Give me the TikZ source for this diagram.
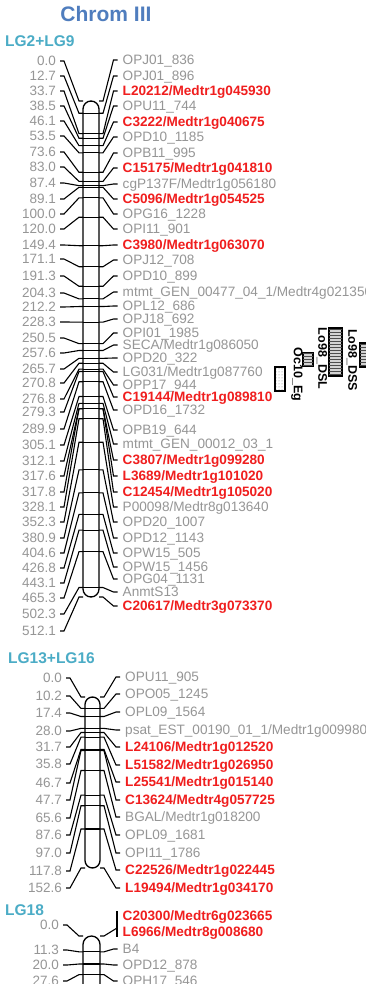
\documentclass[tikz,border=0pt]{standalone}
\usepackage{fontspec}
\setmainfont{Liberation Sans}
\usetikzlibrary{patterns,calc}
\definecolor{gry}{RGB}{150,150,150}
\definecolor{rd}{RGB}{240,30,30}
\definecolor{lgc}{RGB}{75,172,198}
\definecolor{ttl}{RGB}{79,125,190}
\newcounter{mk}
\newcommand\setchrom[8]{\def\numx{#1}\def\barL{#2}\def\barR{#3}\def\labx{#4}\def\btop{#5}\def\bk{#6}\def\bbot{#7}\def\brad{#8}}
\newcommand\mk[6]{%
 \stepcounter{mk}%
 \pgfmathsetmacro\yb{\btop+#1*\bk}%
 \node[numsty,anchor=base east] (num\themk) at (\numx,#2+4.9) {#4};%
 \node[#6,anchor=base west] (lab\themk) at (\labx,#3+4.9) {#5};%
 \coordinate (bl\themk) at (\barL,\yb);%
 \coordinate (br\themk) at (\barR,\yb);%
 \coordinate (tl\themk) at (\numx+4,#2);%
 \coordinate (tr\themk) at (\labx-5,#3);%
 \draw[conn] (tl\themk) -- ([xshift=4pt]tl\themk) -- ([xshift=-4pt]bl\themk) -- (bl\themk);%
 \draw[conn] (br\themk) -- ([xshift=4pt]br\themk) -- ([xshift=-4pt]tr\themk) -- (tr\themk);%
 \begin{scope}\clip[rounded corners=\brad pt] (\barL,\btop) rectangle (\barR,\bbot);
 \draw[conn] (bl\themk) -- (br\themk);\end{scope}%
}
\tikzset{
 numsty/.style={inner sep=0pt,text=gry,font=\fontsize{13.5}{14}\selectfont},
 gl/.style={inner sep=0pt,text=gry,font=\fontsize{13.6}{14}\selectfont},
 rl/.style={inner sep=0pt,text=rd,font=\bfseries\fontsize{13.6}{14}\selectfont},
 conn/.style={line width=1.1pt,black},
 barsty/.style={line width=1.3pt,black},
 lgt/.style={inner sep=0pt,text=lgc,font=\bfseries\fontsize{15.5}{17}\selectfont,anchor=base west},
 qbox/.style={line width=1.4pt,black},
 qlab/.style={inner sep=0pt,font=\bfseries\fontsize{12.5}{13}\selectfont,rotate=-90}
}
\begin{document}
\begin{tikzpicture}[x=1pt,y=-1pt]
\useasboundingbox (0,0) rectangle (366,984);
\fill[white] (0,0) rectangle (366,984);
% title
\node[inner sep=0pt,anchor=base,text=ttl,font=\bfseries\fontsize{21}{24}\selectfont] (title) at (106,22) {Chrom III};
% ---------- LG2+LG9
\node[lgt] (lg1) at (5,47) {LG2+LG9};
\setchrom{56}{83}{99}{122.5}{101}{0.9686}{597}{8}
\mk{0.0}{61}{60}{0.0}{OPJ01\_836}{gl}
\mk{12.7}{76}{76}{12.7}{OPJ01\_896}{gl}
\mk{33.7}{91}{91}{33.7}{L20212/Medtr1g045930}{rl}
\mk{38.5}{106}{106}{38.5}{OPU11\_744}{gl}
\mk{46.1}{121}{122}{46.1}{C3222/Medtr1g040675}{rl}
\mk{53.5}{136}{137}{53.5}{OPD10\_1185}{gl}
\mk{73.6}{152}{153}{73.6}{OPB11\_995}{gl}
\mk{83.0}{167}{168}{83.0}{C15175/Medtr1g041810}{rl}
\mk{87.4}{183}{184}{87.4}{cgP137F/Medtr1g056180}{gl}
\mk{89.1}{199}{199}{89.1}{C5096/Medtr1g054525}{rl}
\mk{100.0}{214}{214}{100.0}{OPG16\_1228}{gl}
\mk{120.0}{229}{229}{120.0}{OPI11\_901}{gl}
\mk{149.4}{245}{245}{149.4}{C3980/Medtr1g063070}{rl}
\mk{171.1}{259}{260}{171.1}{OPJ12\_708}{gl}
\mk{191.3}{276}{276}{191.3}{OPD10\_899}{gl}
\mk{204.3}{293}{292}{204.3}{mtmt\_GEN\_00477\_04\_1/Medtr4g021350}{gl}
\mk{212.2}{307}{306}{212.2}{OPL12\_686}{gl}
\mk{228.3}{322}{319}{228.3}{OPJ18\_692}{gl}
\mk{250.5}{338}{333}{250.5}{OPI01\_1985}{gl}
\mk{257.6}{353}{345}{257.6}{SECA/Medtr1g086050}{gl}
\mk{265.7}{369}{358}{265.7}{OPD20\_322}{gl}
\mk{270.8}{383}{372}{270.8}{LG031/Medtr1g087760}{gl}
\mk{276.8}{399}{385}{276.8}{OPP17\_944}{gl}
\mk{279.3}{412}{397}{279.3}{C19144/Medtr1g089810}{rl}
\mk{289.9}{429}{410}{289.9}{OPD16\_1732}{gl}
\mk{305.1}{445}{430}{305.1}{OPB19\_644}{gl}
\mk{312.1}{461}{444}{312.1}{mtmt\_GEN\_00012\_03\_1}{gl}
\mk{317.6}{476}{460}{317.6}{C3807/Medtr1g099280}{rl}
\mk{317.8}{492}{476}{317.8}{L3689/Medtr1g101020}{rl}
\mk{328.1}{507}{492}{328.1}{C12454/Medtr1g105020}{rl}
\mk{352.3}{522}{507}{352.3}{P00098/Medtr8g013640}{gl}
\mk{380.9}{538}{522}{380.9}{OPD20\_1007}{gl}
\mk{404.6}{553}{538}{404.6}{OPD12\_1143}{gl}
\mk{426.8}{568}{553}{426.8}{OPW15\_505}{gl}
\mk{443.1}{583}{567}{443.1}{OPW15\_1456}{gl}
\mk{465.3}{598}{579}{465.3}{OPG04\_1131}{gl}
\mk{502.3}{614}{592}{502.3}{AnmtS13}{gl}
\mk{512.1}{631}{606}{512.1}{C20617/Medtr3g073370}{rl}
\draw[barsty,rounded corners=8pt] (83,101) rectangle (99,597);
% ---------- QTL boxes
\draw[qbox,fill=gray!12,pattern=dots,pattern color=gray] (275,367) rectangle (285,391);
\node[qlab] (q1) at (297,374.5) {Oc10\_Eg};
\draw[qbox,fill=gray!35] (303,353) rectangle (313,366);
\fill[pattern=horizontal lines,pattern color=black!70] (303,353) rectangle (313,366);
\node[qlab] (q2) at (322,358.5) {Lo98\_DSL};
\draw[qbox,fill=gray!35] (329,328) rectangle (342,376);
\fill[pattern=horizontal lines,pattern color=black!70] (329,328) rectangle (342,376);
\node[qlab] (q3) at (352,360) {Lo98\_DSS};
\draw[qbox,fill=gray!35] (360,343) rectangle (372,367);
\fill[pattern=horizontal lines,pattern color=black!70] (360,343) rectangle (372,367);
% ---------- LG13+LG16
\node[lgt] (lg2) at (8,663) {LG13+LG16};
\setchrom{62}{85}{100}{125}{697}{1.1206}{868}{7.5}
\mk{0.0}{678}{677}{0.0}{OPU11\_905}{gl}
\mk{10.2}{696}{694}{10.2}{OPO05\_1245}{gl}
\mk{17.4}{713}{712}{17.4}{OPL09\_1564}{gl}
\mk{28.0}{731}{730}{28.0}{psat\_EST\_00190\_01\_1/Medtr1g009980}{gl}
\mk{31.7}{747}{747}{31.7}{L24106/Medtr1g012520}{rl}
\mk{35.8}{764}{765}{35.8}{L51582/Medtr1g026950}{rl}
\mk{46.7}{783}{782}{46.7}{L25541/Medtr1g015140}{rl}
\mk{47.7}{800}{800}{47.7}{C13624/Medtr4g057725}{rl}
\mk{65.6}{818}{817}{65.6}{BGAL/Medtr1g018200}{gl}
\mk{87.6}{835}{835}{87.6}{OPL09\_1681}{gl}
\mk{97.0}{853}{853}{97.0}{OPI11\_1786}{gl}
\mk{117.8}{871}{870}{117.8}{C22526/Medtr1g022445}{rl}
\mk{152.6}{888}{888}{152.6}{L19494/Medtr1g034170}{rl}
\draw[barsty,rounded corners=7.5pt] (85,697) rectangle (100,868);
% ---------- LG18
\node[lgt] (lg3) at (5,915) {LG18};
\setchrom{59}{83}{100}{122.5}{936}{1.4}{1012}{8.5}
\node[numsty,anchor=base east] (n18a) at (59,929.9) {0.0};
\node[rl,anchor=base west] (l18a) at (122.5,920.9) {C20300/Medtr6g023665};
\node[rl,anchor=base west] (l18b) at (122.5,936.9) {L6966/Medtr8g008680};
\coordinate (b18t) at (117,911);
\coordinate (b18b) at (117,937);
\coordinate (b18m) at (117,928);
\coordinate (b18l) at (83,936);
\coordinate (b18r) at (100,936);
\coordinate (t18l) at (63,925);
\draw[conn] (b18t) -- (b18b);
\draw[conn] (t18l) -- ++(4,0) -- ([xshift=-4pt]b18l) -- (b18l);
\draw[conn] (b18r) -- ([xshift=4pt]b18r) -- (b18m);
\mk{11.3}{950}{949}{11.3}{B4}{gl}
\mk{20.0}{965}{965}{20.0}{OPD12\_878}{gl}
\mk{27.6}{981}{981}{27.6}{OPH17\_546}{gl}
\draw[barsty,rounded corners=8.5pt] (83,936) rectangle (100,1012);
\end{tikzpicture}
\end{document}
